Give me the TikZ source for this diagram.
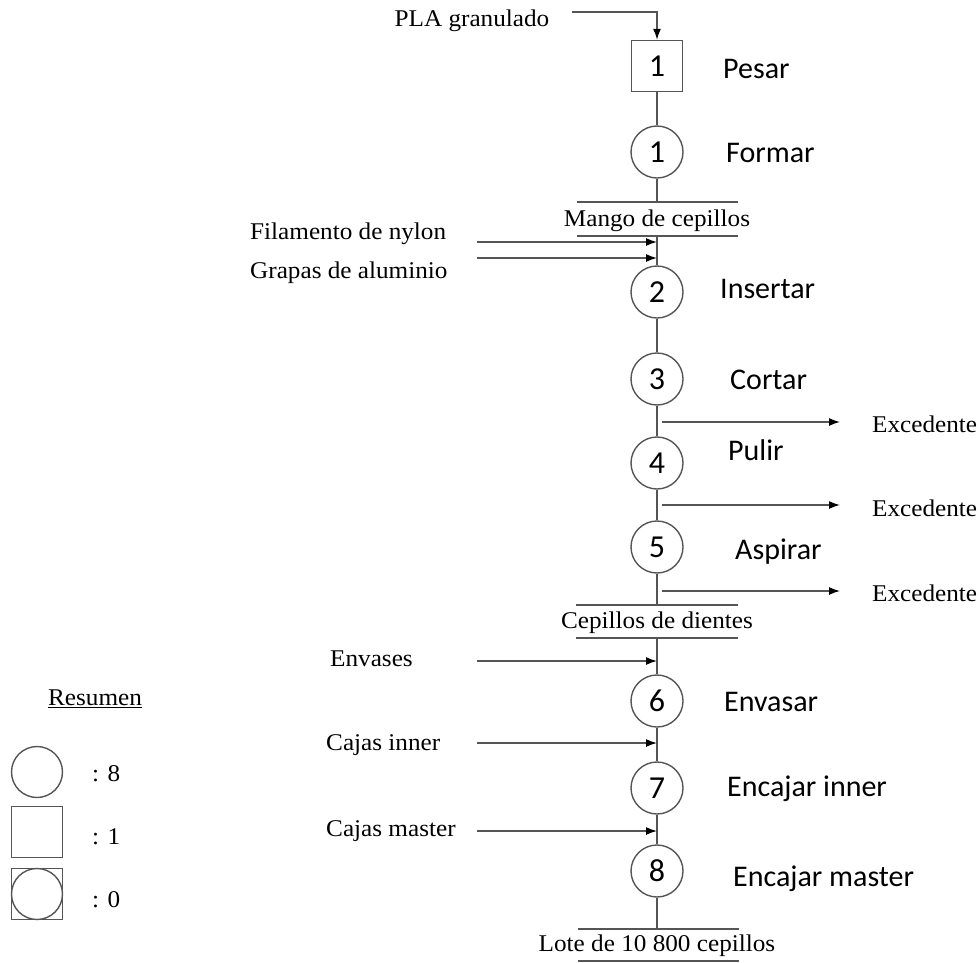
\documentclass[tikz,border=0pt]{standalone}
\usepackage{fontspec}
\setmainfont[FakeStretch=1.05]{Liberation Serif}
\newfontfamily\carlito{Carlito}
\usetikzlibrary{arrows.meta}
\definecolor{ln}{HTML}{555555}
\begin{document}
\begin{tikzpicture}[x=1pt,y=-1pt,
  op/.style={circle, draw=ln, line width=1.4pt, minimum size=52pt, inner sep=0pt, font=\carlito\fontsize{32}{32}\selectfont},
  insp/.style={rectangle, draw=ln, line width=1.4pt, minimum size=51pt, inner sep=0pt, font=\carlito\fontsize{32}{32}\selectfont},
  act/.style={anchor=west, inner sep=0pt, font=\carlito\fontsize{30}{30}\selectfont},
  lbl/.style={inner sep=0pt, font=\fontsize{24}{24}\selectfont},
  flow/.style={ln, line width=1.4pt},
  bar/.style={ln, line width=1.4pt},
  arr/.style={ln, line width=1.4pt, -{Latex[length=11pt,width=8pt,color=black]}}
]
\useasboundingbox (0,0) rectangle (980,962);

% main operations
\node[insp] (s1) at (657,66) {1};
\node[op] (c1) at (657,152) {1};
\node[op] (c2) at (657,292) {2};
\node[op] (c3) at (657,379) {3};
\node[op] (c4) at (657,463) {4};
\node[op] (c5) at (657,547) {5};
\node[op] (c6) at (657,701) {6};
\node[op] (c7) at (657,788) {7};
\node[op] (c8) at (657,871) {8};

% activity labels
\node[act] (a1) at (723,69) {Pesar};
\node[act] (a2) at (726,153) {Formar};
\node[act] (a3) at (720,289) {Insertar};
\node[act] (a4) at (730,380) {Cortar};
\node[act] (a5) at (728,450) {Pulir};
\node[act] (a6) at (735,552) {Aspirar};
\node[act] (a7) at (724,702) {Envasar};
\node[act] (a8) at (727,789) {Encajar inner};
\node[act] (a9) at (733,879) {Encajar master};

% input labels
\node[lbl] (pla) at (472,21) {PLA granulado};
\node[lbl, anchor=west] (fil) at (250,234) {Filamento de nylon};
\node[lbl, anchor=west] (gra) at (250,273) {Grapas de aluminio};
\node[lbl, anchor=west] (env) at (330,659) {Envases};
\node[lbl, anchor=west] (cin) at (326,745) {Cajas inner};
\node[lbl, anchor=west] (cma) at (326,831) {Cajas master};

% intermediate products
\node[lbl] (mango) at (657,221) {Mango de cepillos};
\node[lbl] (cep) at (657,623) {Cepillos de dientes};
\node[lbl] (lote) at (657,946) {Lote de 10 800 cepillos};

% outputs
\node[lbl, anchor=west] (e1) at (872,424) {Excedente};
\node[lbl, anchor=west] (e2) at (872,508) {Excedente};
\node[lbl, anchor=west] (e3) at (872,593) {Excedente};

% coordinates
\coordinate (plaS) at (572,12);
\coordinate (m1) at (657,202);
\coordinate (m2) at (657,236);
\coordinate (k1) at (657,605);
\coordinate (k2) at (657,638);
\coordinate (l1) at (657,929);
\coordinate (filS) at (477,242);
\coordinate (filE) at (657,242);
\coordinate (graS) at (477,258);
\coordinate (graE) at (657,258);
\coordinate (envS) at (477,661);
\coordinate (envE) at (657,661);
\coordinate (cinS) at (477,743);
\coordinate (cinE) at (657,743);
\coordinate (cmaS) at (477,831);
\coordinate (cmaE) at (657,831);
\coordinate (x1S) at (662,422);
\coordinate (x1E) at (840,422);
\coordinate (x2S) at (662,505);
\coordinate (x2E) at (840,505);
\coordinate (x3S) at (662,591);
\coordinate (x3E) at (840,591);

% bars
\draw[bar] (577,202) -- (738,202);
\draw[bar] (577,236) -- (738,236);
\draw[bar] (576,605) -- (738,605);
\draw[bar] (576,638) -- (738,638);
\draw[bar] (578,929) -- (739,929);
\draw[bar] (578,961) -- (739,961);

% main flow
\draw[arr] (plaS) -| (s1.north);
\draw[flow] (s1.south) -- (c1.north);
\draw[flow] (c1.south) -- (m1);
\draw[flow] (m2) -- (c2.north);
\draw[flow] (c2.south) -- (c3.north);
\draw[flow] (c3.south) -- (c4.north);
\draw[flow] (c4.south) -- (c5.north);
\draw[flow] (c5.south) -- (k1);
\draw[flow] (k2) -- (c6.north);
\draw[flow] (c6.south) -- (c7.north);
\draw[flow] (c7.south) -- (c8.north);
\draw[flow] (c8.south) -- (l1);

% inputs
\draw[arr] (filS) -- (filE);
\draw[arr] (graS) -- (graE);
\draw[arr] (envS) -- (envE);
\draw[arr] (cinS) -- (cinE);
\draw[arr] (cmaS) -- (cmaE);

% outputs
\draw[arr] (x1S) -- (x1E);
\draw[arr] (x2S) -- (x2E);
\draw[arr] (x3S) -- (x3E);

% legend
\node[lbl] (res) at (95,699) {\underline{Resumen}};
\node[circle, draw=ln, line width=1.4pt, minimum size=51pt, inner sep=0pt] (lc) at (37,772) {};
\node[rectangle, draw=ln, line width=1.4pt, minimum size=51pt, inner sep=0pt] (ls) at (37,832) {};
\node[rectangle, draw=ln, line width=1.4pt, minimum size=51pt, inner sep=0pt] (lcs) at (37,894) {};
\draw[ln, line width=1.4pt] (lcs) circle (25.5pt);
\node[lbl, anchor=west] (n1) at (92,774) {: 8};
\node[lbl, anchor=west] (n2) at (92,837) {: 1};
\node[lbl, anchor=west] (n3) at (92,900) {: 0};
\end{tikzpicture}
\end{document}
